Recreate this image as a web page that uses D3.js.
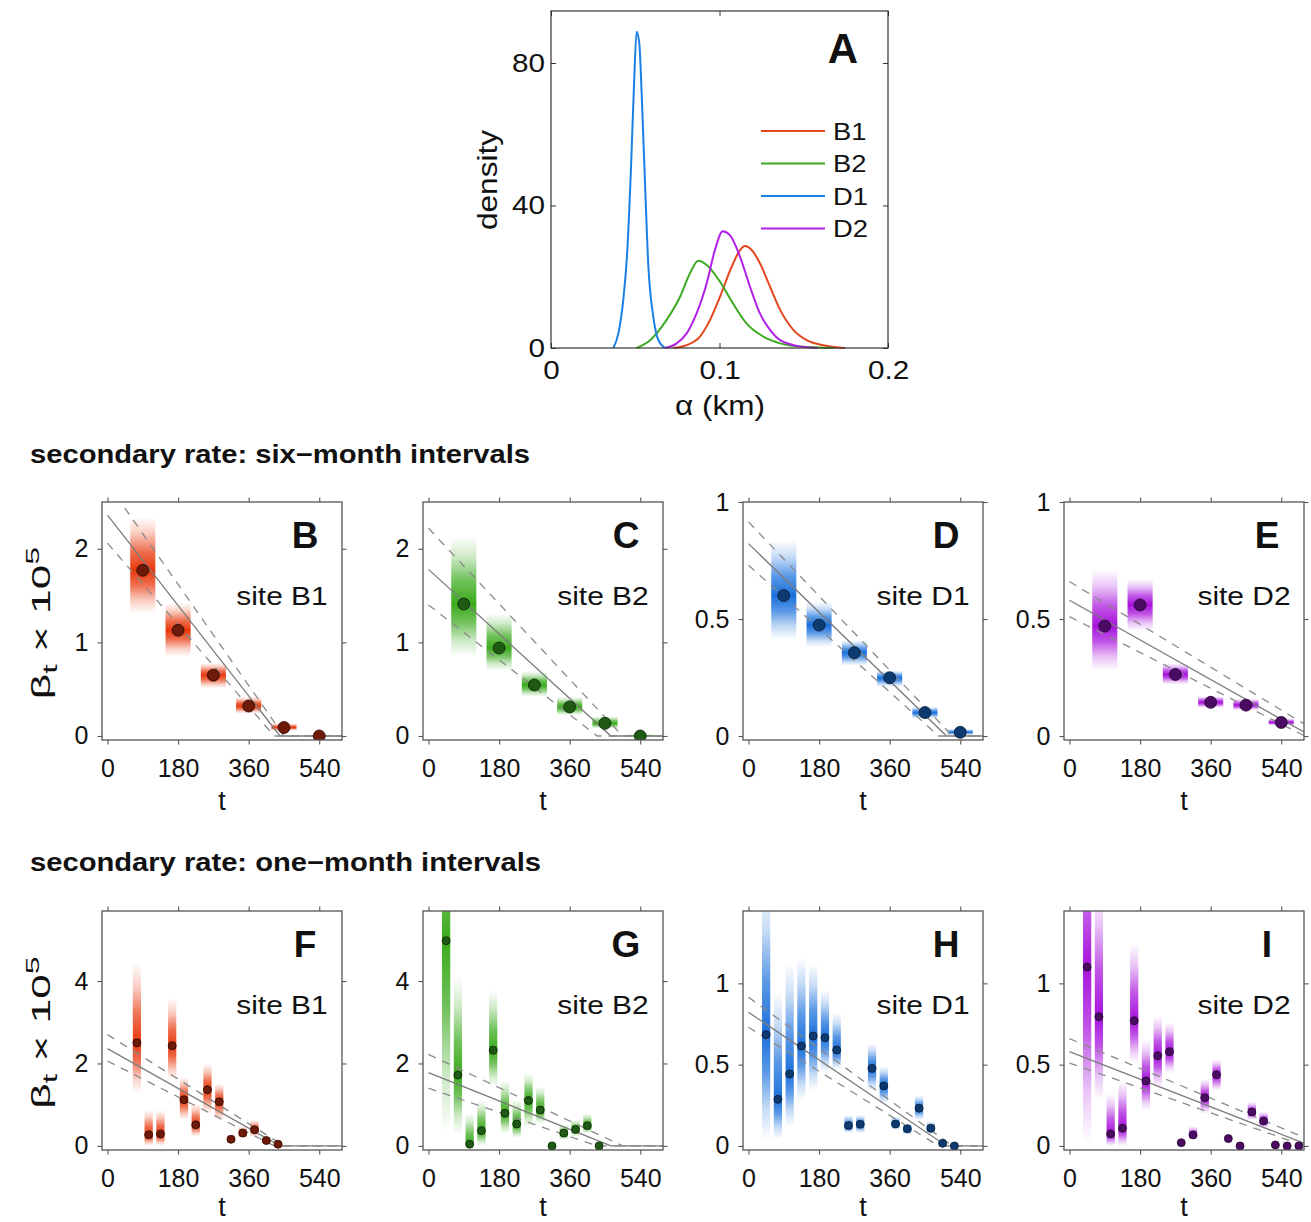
<!DOCTYPE html>
<html>
<head>
<meta charset="utf-8">
<script src="https://cdn.jsdelivr.net/npm/d3@7"></script>
<style>
  body { margin: 0; background: #fff; }
  svg text { font-family: "Liberation Sans", Arial, sans-serif; fill: #111; }
</style>
</head>
<body>
<svg id="fig" width="1311" height="1222"></svg>
<script>
// ---- panel A: posterior densities of alpha (km) ----
const densB1 = [[0.0726,0],[0.0805,0.8],[0.0884,3.2],[0.0944,7.9],[0.1003,14.4],[0.1072,22.8],[0.1122,27.5],[0.1151,28.6],[0.1191,27.5],[0.124,23.8],[0.130,17.2],[0.136,10.7],[0.1438,5.1],[0.1517,2.2],[0.1616,0.8],[0.1745,0]];
const densB2 = [[0.0508,0],[0.0588,2.2],[0.0686,7.9],[0.0766,14.4],[0.0825,21],[0.0874,24.5],[0.0924,23.3],[0.1003,18.6],[0.108,12.5],[0.116,6.9],[0.126,3.2],[0.136,1.3],[0.148,0.4],[0.168,0]];
const densD1 = [[0.037,0],[0.040,4.1],[0.0429,13.5],[0.0453,27.5],[0.0475,50.9],[0.0493,74.3],[0.0508,88.8],[0.0524,85.5],[0.0538,71.5],[0.0558,46.2],[0.0578,22.8],[0.0607,8.8],[0.0637,2.2],[0.0677,0]];
const densD2 = [[0.0677,0],[0.0746,1.3],[0.0805,4.1],[0.0864,9.7],[0.0924,18.2],[0.0973,27.5],[0.1019,32.8],[0.1062,31.7],[0.1122,25.6],[0.1181,17.2],[0.124,9.7],[0.130,5.1],[0.136,2.2],[0.146,0.6],[0.158,0]];
const siteNames = ["B1", "B2", "D1", "D2"];
const lineColors = ["#e4461e", "#3caa22", "#1a80e6", "#b020e6"];
const barColors = ["#e8380c", "#3aaa1c", "#1a70dc", "#a812dc"];
const dotColors = ["#6e1a08", "#1f5a14", "#0d3a70", "#4c0b62"];
const dotStroke = ["#2a0800", "#0a2606", "#061a36", "#200530"];

// ---- six-month intervals (panels B-E) ----
const tSix = [90, 180, 270, 360, 450, 540];
const medB1six = [1.77, 1.13, 0.65, 0.32, 0.09, 0.0];
const loB1six  = [1.31, 0.85, 0.51, 0.24, 0.057, -0.01];
const hiB1six  = [2.34, 1.42, 0.78, 0.42, 0.135, 0.012];
const medB2six = [1.41, 0.94, 0.545, 0.31, 0.135, 0.0];
const loB2six  = [0.85, 0.70, 0.42, 0.22, 0.08, -0.01];
const hiB2six  = [2.13, 1.31, 0.69, 0.42, 0.21, 0.02];
const medD1six = [0.60, 0.474, 0.356, 0.249, 0.10, 0.016];
const loD1six  = [0.41, 0.38, 0.30, 0.21, 0.075, 0.004];
const hiD1six  = [0.836, 0.573, 0.41, 0.28, 0.125, 0.03];
const medD2six = [0.47, 0.56, 0.263, 0.144, 0.132, 0.058];
const loD2six  = [0.28, 0.45, 0.22, 0.12, 0.11, 0.045];
const hiD2six  = [0.71, 0.67, 0.31, 0.17, 0.16, 0.075];

// ---- one-month intervals (panels F-I) ----
const tB1mon  = [75, 105, 135, 165, 195, 225, 255, 285, 315, 345, 375, 405, 435];
const medB1mon = [2.50, 0.27, 0.29, 2.43, 1.12, 0.51, 1.36, 1.07, 0.16, 0.31, 0.39, 0.13, 0.04];
const loB1mon  = [1.28, 0.0, 0.0, 1.6, 0.63, 0.23, 0.79, 0.63, 0.06, 0.19, 0.23, 0.05, 0.0];
const hiB1mon  = [4.43, 0.87, 0.87, 3.58, 1.68, 1.03, 2.0, 1.52, 0.27, 0.47, 0.63, 0.21, 0.08];
const tB2mon  = [45, 75, 105, 135, 165, 195, 225, 255, 285, 315, 345, 375, 405, 435];
const medB2mon = [4.98, 1.72, 0.04, 0.37, 2.32, 0.79, 0.53, 1.10, 0.87, 0.0, 0.31, 0.40, 0.49, 0.0];
const loB2mon  = [0.3, 0.3, 0.0, 0.0, 1.43, 0.3, 0.19, 0.47, 0.55, 0.0, 0.15, 0.23, 0.31, 0.0];
const hiB2mon  = [9.0, 4.1, 0.79, 1.11, 3.77, 1.6, 1.11, 1.76, 1.44, 0.0, 0.51, 0.63, 0.79, 0.0];
const tD1mon  = [45, 75, 105, 135, 165, 195, 225, 255, 285, 315, 345, 375, 405, 435, 465, 495, 525];
const medD1mon = [0.684, 0.287, 0.443, 0.615, 0.676, 0.666, 0.59, 0.125, 0.133, 0.477, 0.369, 0.135, 0.105, 0.232, 0.109, 0.016, 0.0];
const loD1mon  = [0.037, 0.04, 0.12, 0.28, 0.34, 0.45, 0.47, 0.08, 0.08, 0.34, 0.26, 0.10, 0.07, 0.16, 0.07, 0.0, 0.0];
const hiD1mon  = [1.6, 0.94, 1.12, 1.16, 1.12, 0.96, 0.82, 0.19, 0.19, 0.63, 0.49, 0.18, 0.14, 0.31, 0.15, 0.03, 0.0];
const tD2mon  = [45, 75, 105, 135, 165, 195, 225, 255, 285, 315, 345, 375, 405, 435, 465, 495, 525, 555, 585];
const medD2mon = [1.10, 0.795, 0.074, 0.109, 0.77, 0.40, 0.555, 0.58, 0.02, 0.068, 0.297, 0.438, 0.045, 0.0, 0.209, 0.154, 0.006, 0.0, 0.0];
const loD2mon  = [0.016, 0.28, 0.0, 0.0, 0.51, 0.22, 0.36, 0.45, 0.02, 0.04, 0.2, 0.34, 0.045, 0.0, 0.16, 0.11, 0.006, 0.0, 0.0];
const hiD2mon  = [2.0, 1.6, 0.32, 0.40, 1.25, 0.65, 0.8, 0.76, 0.02, 0.12, 0.41, 0.53, 0.045, 0.0, 0.27, 0.21, 0.006, 0.0, 0.0];

// ---- fitted linear trend per site: [median, upper, lower] as (t, beta) vertices ----
const trendB1 = [[[0, 2.36], [440, 0], [600, 0]], [[0, 2.70], [450, 0], [600, 0]], [[0, 2.06], [425, 0], [600, 0]]];
const trendB2 = [[[0, 1.78], [465, 0], [600, 0]], [[0, 2.22], [495, 0], [600, 0]], [[0, 1.40], [430, 0], [600, 0]]];
const trendD1 = [[[0, 0.822], [505, 0], [600, 0]], [[0, 0.915], [520, 0], [600, 0]], [[0, 0.73], [485, 0], [600, 0]]];
const trendD2 = [[[0, 0.58], [600, 0.015]], [[0, 0.66], [600, 0.05]], [[0, 0.51], [600, 0.0]]];

const tTicks = [0, 180, 360, 540];

const svg = d3.select("#fig");
const defs = svg.append("defs");
const fmt = d3.format("~g");

// the lettering in the source is wider than Arial; widen text to match
function widen(sel, factor) {
  sel.each(function () {
    const w = this.getComputedTextLength();
    d3.select(this).attr("textLength", w * factor).attr("lengthAdjust", "spacingAndGlyphs");
  });
}
function fitTo(sel, width) {
  sel.attr("textLength", width).attr("lengthAdjust", "spacingAndGlyphs");
}

// ================= Panel A =================
function drawDensity() {
  const x = d3.scaleLinear().domain([0, 0.2]).range([551, 888]);
  const y = d3.scaleLinear().domain([0, 94.6]).range([348, 11]);
  const g = svg.append("g");
  const line = d3.line().x(d => x(d[0])).y(d => y(d[1])).curve(d3.curveMonotoneX);

  [densB1, densB2, densD1, densD2].forEach((d, i) => {
    g.append("path")
      .attr("d", line(d))
      .attr("fill", "none")
      .attr("stroke", lineColors[i])
      .attr("stroke-width", 2);
  });

  // axes, ticks pointing inward
  const axes = [
    { a: d3.axisBottom(x).tickValues([0, 0.1, 0.2]).tickFormat(fmt).tickPadding(13), tr: `translate(0,348)` },
    { a: d3.axisLeft(y).tickValues([0, 40, 80]).tickPadding(6), tr: `translate(551,0)` },
    { a: d3.axisTop(x).tickValues([0, 0.1, 0.2]).tickFormat(""), tr: `translate(0,11)` },
    { a: d3.axisRight(y).tickValues([0, 40, 80]).tickFormat(""), tr: `translate(888,0)` }
  ];
  axes.forEach(ax => {
    const ag = g.append("g").attr("transform", ax.tr)
      .call(ax.a.tickSize(-5).tickSizeOuter(0));
    ag.select(".domain").remove();
    ag.selectAll("line").attr("stroke", "#333");
    const tx = ag.selectAll("text").style("font-size", "26px").attr("fill", "#111");
    widen(tx.filter(function () { return this.textContent !== ""; }), 1.14);
  });

  g.append("rect")
    .attr("x", 551).attr("y", 11).attr("width", 337).attr("height", 337)
    .attr("fill", "none").attr("stroke", "#333").attr("stroke-width", 1.2);

  fitTo(g.append("text").attr("x", 720).attr("y", 415).attr("text-anchor", "middle")
    .style("font-size", "27px").text("α (km)"), 90);
  fitTo(g.append("text").attr("transform", "translate(497,180) rotate(-90)")
    .attr("text-anchor", "middle").style("font-size", "27px").text("density"), 100);
  g.append("text").attr("x", 843).attr("y", 63).attr("text-anchor", "middle")
    .style("font-size", "42px").style("font-weight", "bold").text("A");

  // legend
  const legY = [131, 163.5, 196, 228.5];
  siteNames.forEach((s, i) => {
    g.append("line").attr("x1", 761).attr("x2", 825).attr("y1", legY[i]).attr("y2", legY[i])
      .attr("stroke", lineColors[i]).attr("stroke-width", 2);
    widen(g.append("text").attr("x", 833).attr("y", legY[i] + 8.5)
      .style("font-size", "24px").text(s), 1.14);
  });
}

// ================= Panels B-I =================
const lefts = [102, 423, 743, 1064];
const panelW = 240;
const rows = [{ top: 502, h: 238, halfW: 32, r: 6, tY: 70 }, { top: 911, h: 239, halfW: 10.5, r: 4, tY: 66 }];

const panels = [
  { L: "B", s: 0, row: 0, t: tSix, med: medB1six, lo: loB1six, hi: hiB1six, trend: trendB1, yDom: [-0.043, 2.5], yTicks: [0, 1, 2] },
  { L: "C", s: 1, row: 0, t: tSix, med: medB2six, lo: loB2six, hi: hiB2six, trend: trendB2, yDom: [-0.043, 2.5], yTicks: [0, 1, 2] },
  { L: "D", s: 2, row: 0, t: tSix, med: medD1six, lo: loD1six, hi: hiD1six, trend: trendD1, yDom: [-0.017, 1.0], yTicks: [0, 0.5, 1] },
  { L: "E", s: 3, row: 0, t: tSix, med: medD2six, lo: loD2six, hi: hiD2six, trend: trendD2, yDom: [-0.017, 1.0], yTicks: [0, 0.5, 1] },
  { L: "F", s: 0, row: 1, t: tB1mon, med: medB1mon, lo: loB1mon, hi: hiB1mon, trend: trendB1, yDom: [-0.1, 5.7], yTicks: [0, 2, 4] },
  { L: "G", s: 1, row: 1, t: tB2mon, med: medB2mon, lo: loB2mon, hi: hiB2mon, trend: trendB2, yDom: [-0.1, 5.7], yTicks: [0, 2, 4] },
  { L: "H", s: 2, row: 1, t: tD1mon, med: medD1mon, lo: loD1mon, hi: hiD1mon, trend: trendD1, yDom: [-0.025, 1.445], yTicks: [0, 0.5, 1] },
  { L: "I", s: 3, row: 1, t: tD2mon, med: medD2mon, lo: loD2mon, hi: hiD2mon, trend: trendD2, yDom: [-0.025, 1.445], yTicks: [0, 0.5, 1] }
];

function drawPanel(p) {
  const rw = rows[p.row];
  const left = lefts[p.s], top = rw.top, h = rw.h;
  const x = d3.scaleLinear().domain([-14, 598]).range([left, left + panelW]);
  const y = d3.scaleLinear().domain(p.yDom).range([top + h, top]);
  const g = svg.append("g");

  const clipId = "clip-" + p.L;
  defs.append("clipPath").attr("id", clipId)
    .append("rect").attr("x", left).attr("y", top).attr("width", panelW).attr("height", h);
  const plot = g.append("g").attr("clip-path", `url(#${clipId})`);

  // posterior bars, shaded strongest at the median and fading out
  const rowsData = p.t.map((t, i) => ({ t, med: p.med[i], lo: p.lo[i], hi: p.hi[i], i }));
  rowsData.forEach(d => {
    if (d.hi - d.lo <= 0) return;
    const gid = `grad-${p.L}-${d.i}`;
    const f = Math.min(0.97, Math.max(0.03, (d.hi - d.med) / (d.hi - d.lo)));
    const stops = [[0, 0], [f * 0.3, 0.25], [f * 0.65, 0.72], [f, 1],
      [f + (1 - f) * 0.35, 0.72], [f + (1 - f) * 0.7, 0.25], [1, 0]];
    const grad = defs.append("linearGradient").attr("id", gid)
      .attr("x1", 0).attr("y1", 0).attr("x2", 0).attr("y2", 1);
    stops.forEach(s => grad.append("stop").attr("offset", s[0])
      .attr("stop-color", barColors[p.s]).attr("stop-opacity", s[1]));
    plot.append("rect")
      .attr("x", x(d.t - rw.halfW))
      .attr("width", x(d.t + rw.halfW) - x(d.t - rw.halfW))
      .attr("y", y(d.hi))
      .attr("height", Math.max(1.5, y(d.lo) - y(d.hi)))
      .attr("fill", `url(#${gid})`);
  });

  // trend lines
  const line = d3.line().x(d => x(d[0])).y(d => y(d[1]));
  p.trend.forEach((pts, k) => {
    plot.append("path").attr("d", line(pts))
      .attr("fill", "none")
      .attr("stroke", k === 0 ? "#7c7c7c" : "#8a8a8a")
      .attr("stroke-width", 1.3)
      .attr("stroke-dasharray", k === 0 ? null : "8,7");
  });

  // medians
  plot.selectAll("circle.med").data(rowsData).join("circle")
    .attr("class", "med")
    .attr("cx", d => x(d.t)).attr("cy", d => y(d.med)).attr("r", rw.r)
    .attr("fill", dotColors[p.s]).attr("stroke", dotStroke[p.s]).attr("stroke-width", 0.8);

  // axes on all four sides, ticks outward
  const axes = [
    { a: d3.axisBottom(x).tickValues(tTicks).tickPadding(15), tr: `translate(0,${top + h})` },
    { a: d3.axisLeft(y).tickValues(p.yTicks).tickFormat(fmt).tickPadding(9), tr: `translate(${left},0)` },
    { a: d3.axisTop(x).tickValues(tTicks).tickFormat(""), tr: `translate(0,${top})` },
    { a: d3.axisRight(y).tickValues(p.yTicks).tickFormat(""), tr: `translate(${left + panelW},0)` }
  ];
  axes.forEach(ax => {
    const ag = g.append("g").attr("transform", ax.tr)
      .call(ax.a.tickSize(4.5).tickSizeOuter(0));
    ag.select(".domain").remove();
    ag.selectAll("line").attr("stroke", "#555").attr("stroke-width", 1.1);
    ag.selectAll("text").style("font-size", "25px").attr("fill", "#111");
  });

  g.append("rect")
    .attr("x", left).attr("y", top).attr("width", panelW).attr("height", h)
    .attr("fill", "none").attr("stroke", "#555").attr("stroke-width", 1.3);

  g.append("text").attr("x", left + 120).attr("y", top + h + rw.tY)
    .attr("text-anchor", "middle").style("font-size", "27px").text("t");
  g.append("text").attr("x", left + 203).attr("y", top + 46)
    .attr("text-anchor", "middle").style("font-size", "37px").style("font-weight", "bold").text(p.L);
  widen(g.append("text").attr("x", left + 180).attr("y", top + 103)
    .attr("text-anchor", "middle").style("font-size", "26px").text("site " + siteNames[p.s]), 1.15);

  if (p.s === 0) {
    // y label, stretched along its reading direction as in the source
    const lab = g.append("text")
      .attr("transform", `translate(50,${top + h / 2 + 2}) rotate(-90) scale(1.7,1)`)
      .attr("text-anchor", "middle").style("font-size", "26px");
    lab.append("tspan").text("β");
    lab.append("tspan").attr("dy", 7).style("font-size", "20px").text("t");
    lab.append("tspan").attr("dy", -7).text(" × 10");
    lab.append("tspan").attr("dy", -11).style("font-size", "19px").text("5");
  }
}

drawDensity();
panels.forEach(drawPanel);

// section headings
fitTo(svg.append("text").attr("x", 30).attr("y", 463)
  .style("font-size", "25px").style("font-weight", "bold")
  .text("secondary rate: six\u2212month intervals"), 500);
fitTo(svg.append("text").attr("x", 30).attr("y", 871)
  .style("font-size", "25px").style("font-weight", "bold")
  .text("secondary rate: one\u2212month intervals"), 511);
</script>
</body>
</html>
